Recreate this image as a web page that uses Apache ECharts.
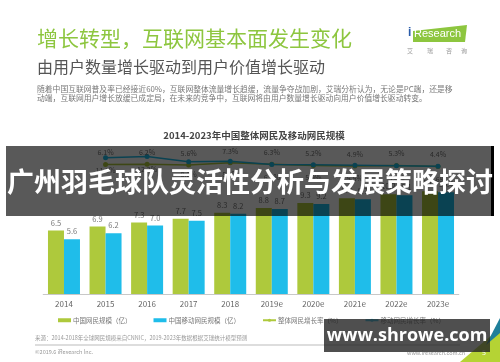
<!DOCTYPE html>
<html><head><meta charset="utf-8">
<script src="https://cdn.jsdelivr.net/npm/echarts@6/dist/echarts.min.js"></script>
<style>html,body{margin:0;padding:0;background:#fff}#c{width:500px;height:362px}</style>
</head><body><div id="c"></div>
<script>
const years = ['2014','2015','2016','2017','2018','2019e','2020e','2021e','2022e','2023e'];
const totalUsers = [6.5,6.9,7.3,7.7,8.3,8.8,9.3,9.8,10.2,10.5];
const mobileUsers = [5.6,6.2,7.0,7.5,8.2,8.7,9.2,9.7,10.1,10.4];
const totalGrowth = [null,6.1,6.2,5.6,7.3,6.3,5.2,4.9,5.3,4.4];
const mobileGrowth = [null,11.3,12.2,8.2,8.5,6.1,5.9,5.5,5.0,4.6];
const seriesNames = ['中国网民规模（亿）','中国移动网民规模（亿）','整体网民增长率（%）','移动网民增长率（%）'];

const FONT = '"Noto Sans CJK SC","Noto Sans",sans-serif';
const GREEN = '#aec93c', BLUE = '#1fbdea';
const chart = echarts.init(document.getElementById('c'), null, {renderer:'canvas'});

const graphics = [
  {type:'text', left:37, top:28, z:50, style:{text:'增长转型，互联网基本面发生变化', fill:'#8dc63f', font:'21px '+FONT}},
  {type:'text', left:37, top:59, z:50, style:{text:'由用户数量增长驱动到用户价值增长驱动', fill:'#555', font:'16px '+FONT}},
  {type:'text', left:37, top:85, z:50, style:{text:'随着中国互联网普及率已经接近60%，互联网整体流量增长趋缓，流量争夺战加剧，艾瑞分析认为，无论是PC端，还是移', fill:'#777', font:'7.8px '+FONT}},
  {type:'text', left:37, top:94.5, z:50, style:{text:'动端，互联网用户增长放缓已成定局，在未来的竞争中，互联网将由用户数量增长驱动向用户价值增长驱动转变。', fill:'#777', font:'7.8px '+FONT}},
  {type:'polygon', z:50, shape:{points:[[413,31],[467,25],[465,42],[413,42]]}, style:{fill:'#8dc63f'}},
  {type:'text', left:408, top:27, z:51, style:{text:'i', fill:'#2a5caa', font:'bold 12px "Liberation Sans",sans-serif'}},
  {type:'text', left:414, top:28.5, z:51, style:{text:'Research', fill:'#fff', font:'11px "Liberation Sans",sans-serif'}},
  {type:'text', left:407, top:48, z:50, style:{text:'艾', fill:'#999', font:'6px '+FONT}},
  {type:'text', left:427, top:48, z:50, style:{text:'瑞', fill:'#999', font:'6px '+FONT}},
  {type:'text', left:446, top:48, z:50, style:{text:'咨', fill:'#999', font:'6px '+FONT}},
  {type:'text', left:461, top:48, z:50, style:{text:'询', fill:'#999', font:'6px '+FONT}},
  {type:'text', x:254, y:135, z:50, style:{text:'2014-2023年中国整体网民及移动网民规模', fill:'#444', font:'bold 9.5px '+FONT, textAlign:'center', textVerticalAlign:'middle'}},
  {type:'text', left:35, top:335, z:50, style:{text:'来源：2014-2018年全球网民规模来自CNNIC，2019-2023年数据根据艾瑞统计模型预测', fill:'#999', font:'5.5px '+FONT}},
  {type:'line', z:50, shape:{x1:35,y1:345,x2:460,y2:345}, style:{stroke:'#bbb', lineWidth:1}},
  {type:'text', left:35, top:349.5, z:50, style:{text:'©2019.6 iResearch Inc.', fill:'#999', font:'5.5px '+FONT}},
  {type:'text', left:407, top:350, z:50, style:{text:'www.iresearch.com.cn', fill:'#999', font:'5.5px '+FONT}},
  {type:'polygon', z:50, shape:{points:[[460,362],[500,362],[500,328]]}, style:{fill:'#b5d334'}},
  {type:'polygon', z:50, shape:{points:[[486,345],[500,318],[500,333]]}, style:{fill:'#1f7f9a'}},
  {type:'text', left:482, top:349, z:51, style:{text:'5', fill:'#fff', font:'7px '+FONT}},
  // overlay band
  {type:'rect', z:100, shape:{x:6,y:146,width:488,height:70}, style:{fill:'rgba(0,0,0,0.65)'}},
  {type:'rect', z:101, shape:{x:491,y:146,width:3,height:70}, style:{fill:'#000'}},
  {type:'text', x:250, y:182, z:102, style:{text:'广州羽毛球队灵活性分析与发展策略探讨', fill:'#fff', font:'bold 27px '+FONT, textAlign:'center', textVerticalAlign:'middle'}},
  // watermark
  {type:'rect', z:100, shape:{x:324,y:319,width:166,height:33}, style:{fill:'rgba(35,35,35,0.8)'}},
  {type:'text', x:407, y:335.5, z:102, style:{text:'www.shrowe.com', fill:'#fff', font:'bold 18px "Open Sans",sans-serif', textAlign:'center', textVerticalAlign:'middle'}}
];

const labelStyle = {color:'#777', fontSize:7.5, fontFamily:FONT};
chart.setOption({
  animation:false,
  backgroundColor:'#fff',
  textStyle:{fontFamily:FONT},
  grid:{left:43.2, right:41.2, top:144, bottom:68, containLabel:false},
  legend:{
    left:58, top:317, padding:0, itemWidth:13, itemHeight:4, itemGap:22,
    textStyle:{color:'#777', fontSize:6.5, fontFamily:FONT, padding:[0,0,0,-3]},
    data:[
      {name:seriesNames[0], icon:'rect'},
      {name:seriesNames[1], icon:'rect'},
      {name:seriesNames[2]},
      {name:seriesNames[3]}
    ]
  },
  xAxis:{type:'category', data:years,
    axisLine:{lineStyle:{color:'#c8c8c8', width:1}},
    axisTick:{show:false},
    axisLabel:{color:'#666', fontSize:8, margin:6, fontFamily:FONT}
  },
  yAxis:[
    {type:'value', min:0, max:15.34, show:false, splitLine:{show:false}},
    {type:'value', min:-93.6, max:21.8, show:false, splitLine:{show:false}}
  ],
  series:[
    {name:seriesNames[0], type:'bar', data:totalUsers, barWidth:16, barGap:'0%', itemStyle:{color:GREEN},
      label:{show:true, position:'top', distance:4, formatter:p=>p.value.toFixed(1), ...labelStyle}},
    {name:seriesNames[1], type:'bar', data:mobileUsers, barWidth:16, barGap:'0%', itemStyle:{color:BLUE},
      label:{show:true, position:'top', distance:4, formatter:p=>p.value.toFixed(1), ...labelStyle}},
    {name:seriesNames[2], type:'line', yAxisIndex:1, data:totalGrowth, symbol:'circle', symbolSize:5,
      lineStyle:{color:GREEN, width:1.5}, itemStyle:{color:GREEN},
      label:{show:true, position:'top', distance:6, formatter:p=>p.value.toFixed(1)+'%', ...labelStyle, fontSize:7}},
    {name:seriesNames[3], type:'line', yAxisIndex:1, data:mobileGrowth, symbol:'circle', symbolSize:5,
      lineStyle:{color:BLUE, width:1.5}, itemStyle:{color:BLUE},
      label:{show:true, position:'bottom', distance:7, formatter:p=>p.value.toFixed(1)+'%', ...labelStyle, fontSize:7}}
  ],
  graphic:graphics
});
</script></body></html>
